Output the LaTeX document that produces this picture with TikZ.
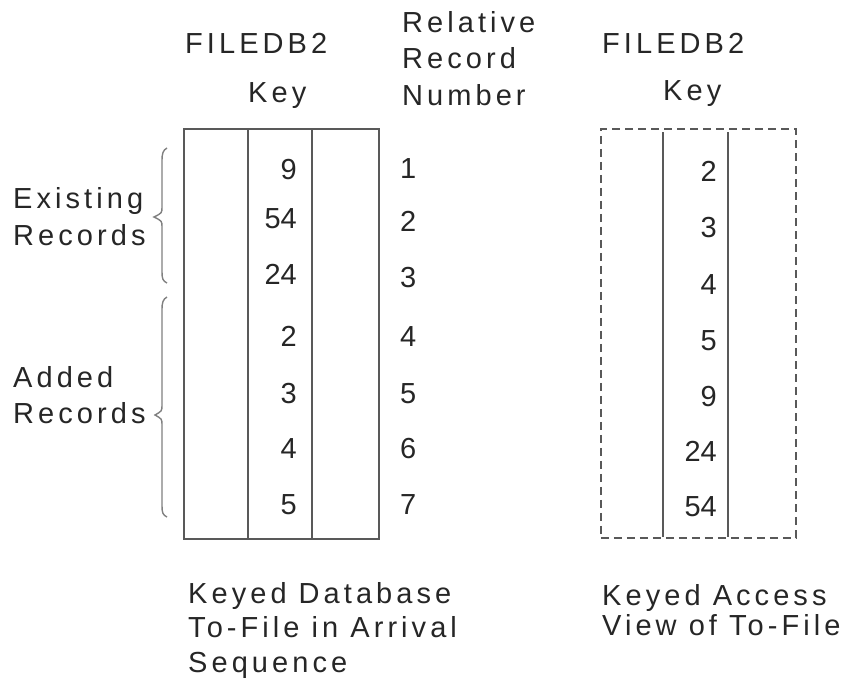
\documentclass[tikz,border=0pt]{standalone}
\usepackage{fontspec}
\setmainfont{Liberation Sans}
\newfontfamily\spc{Liberation Sans}[LetterSpace=14]
\begin{document}
\begin{tikzpicture}[x=1pt,y=-1pt,
  lbl/.style={inner sep=0pt, anchor=base west, text=black!85, font=\fontsize{29}{35}\selectfont\spc},
  num/.style={inner sep=0pt, anchor=base east, text=black!85, font=\fontsize{29}{35}\selectfont},
  rnum/.style={inner sep=0pt, anchor=base west, text=black!85, font=\fontsize{29}{35}\selectfont},
  boxline/.style={draw=black!65, line width=1.8pt},
  dashline/.style={draw=black!65, line width=1.8pt, dash pattern=on 8pt off 5pt},
  bracepath/.style={draw=black!50, line width=1.4pt}]
\useasboundingbox (0,0) rectangle (847,688);
% headers
\node[lbl] (fa) at (185,53) {FILEDB2};
\node[lbl] (ka) at (248,102) {Key};
\node[lbl] (rel1) at (402,32) {Relative};
\node[lbl] (rel2) at (402,68) {Record};
\node[lbl] (rel3) at (402,105) {Number};
\node[lbl] (fb) at (602,53) {FILEDB2};
\node[lbl] (kb) at (663,100) {Key};
% left table
\node[boxline, minimum width=195pt, minimum height=410pt, inner sep=0pt, anchor=north west] (ta) at (183,128) {};
\coordinate (ta1t) at (248,128); \coordinate (ta1b) at (248,538);
\coordinate (ta2t) at (312,128); \coordinate (ta2b) at (312,538);
\draw[boxline] (ta1t) -- (ta1b);
\draw[boxline] (ta2t) -- (ta2b);
% right table
\node[dashline, minimum width=195pt, minimum height=409pt, inner sep=0pt, anchor=north west] (tb) at (600,128) {};
\coordinate (tb1t) at (663,132); \coordinate (tb1b) at (663,537);
\coordinate (tb2t) at (728,132); \coordinate (tb2b) at (728,537);
\draw[boxline] (tb1t) -- (tb1b);
\draw[boxline] (tb2t) -- (tb2b);
% left keys
\node[num] (a1) at (297,179) {9};
\node[num] (a2) at (297,228) {54};
\node[num] (a3) at (297,284) {24};
\node[num] (a4) at (297,346) {2};
\node[num] (a5) at (297,403) {3};
\node[num] (a6) at (297,458) {4};
\node[num] (a7) at (297,514) {5};
% record numbers
\node[rnum] (r1) at (400,178) {1};
\node[rnum] (r2) at (400,231) {2};
\node[rnum] (r3) at (400,287) {3};
\node[rnum] (r4) at (400,346) {4};
\node[rnum] (r5) at (400,403) {5};
\node[rnum] (r6) at (400,458) {6};
\node[rnum] (r7) at (400,514) {7};
% right keys
\node[num] (b1) at (717,181) {2};
\node[num] (b2) at (717,237) {3};
\node[num] (b3) at (717,294) {4};
\node[num] (b4) at (717,350) {5};
\node[num] (b5) at (717,406) {9};
\node[num] (b6) at (717,461) {24};
\node[num] (b7) at (717,516) {54};
% side labels
\node[lbl] (ex1) at (13,208) {Existing};
\node[lbl] (ex2) at (13,245) {Records};
\node[lbl] (ad1) at (13,387) {Added};
\node[lbl] (ad2) at (13,423) {Records};
% braces
\draw[bracepath] (167,148) .. controls (163,150) and (162,154) .. (162,160) -- (162,207) .. controls (162,213) .. (154,217) .. controls (162,221) .. (162,227) -- (162,272) .. controls (162,279) and (163,281) .. (167,283);
\draw[bracepath] (167,297) .. controls (163,299) and (162,303) .. (162,309) -- (162,405) .. controls (162,411) .. (155,415) .. controls (162,419) .. (162,425) -- (162,506) .. controls (162,513) and (163,515) .. (167,517);
% captions
\node[lbl] (ca1) at (188,603) {Keyed Database};
\node[lbl] (ca2) at (188,637) {To-File in Arrival};
\node[lbl] (ca3) at (188,672) {Sequence};
\node[lbl] (cb1) at (602,605) {Keyed Access};
\node[lbl] (cb2) at (602,635) {View of To-File};
\end{tikzpicture}
\end{document}
